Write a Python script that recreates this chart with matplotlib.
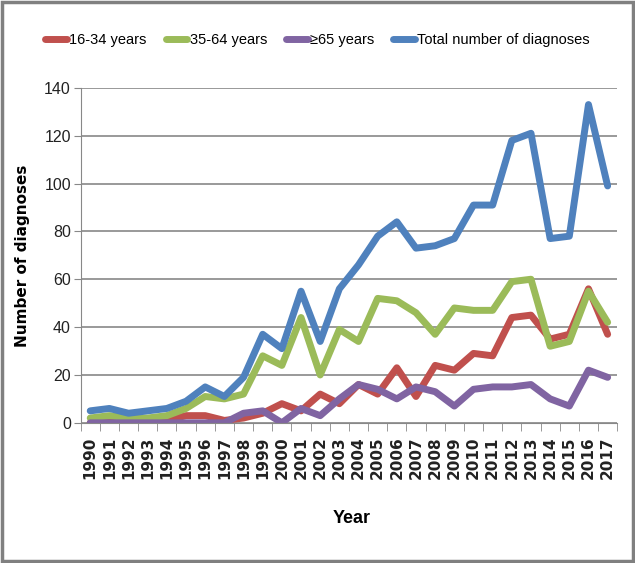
import numpy as np
import matplotlib.pyplot as plt
from matplotlib.patches import Rectangle

years = list(range(1990, 2018))
age_16_34 = [0, 1, 1, 0, 1, 3, 3, 1, 2, 4, 8, 5, 12, 8, 16, 12, 23, 11, 24, 22,
             29, 28, 44, 45, 35, 37, 56, 37]
age_35_64 = [2, 3, 2, 2, 3, 6, 11, 10, 12, 28, 24, 44, 20, 39, 34, 52, 51, 46, 37, 48,
             47, 47, 59, 60, 32, 34, 55, 42]
age_65_plus = [0, 0, 0, 0, 0, 0, 0, 0, 4, 5, 0, 6, 3, 10, 16, 14, 10, 15, 13, 7,
               14, 15, 15, 16, 10, 7, 22, 19]
total = [5, 6, 4, 5, 6, 9, 15, 11, 19, 37, 31, 55, 34, 56, 66, 78, 84, 73, 74, 77,
         91, 91, 118, 121, 77, 78, 133, 99]

series = [
    ('16-34 years', age_16_34, '#C0504D'),
    ('35-64 years', age_35_64, '#9BBB59'),
    ('\u226565 years', age_65_plus, '#8064A2'),
    ('Total number of diagnoses', total, '#4F81BD'),
]

narrow = ['Liberation Sans', 'DejaVu Sans']

fig = plt.figure(figsize=(6.35, 5.63), dpi=100)
ax = fig.add_axes([0.127, 0.249, 0.845, 0.595])

x = np.arange(len(years))
for label, vals, color in series:
    ax.plot(x, vals, color=color, lw=5, label=label, solid_capstyle='round',
            solid_joinstyle='round')

ax.set_xlim(-0.5, len(years) - 0.5)
ax.set_ylim(0, 140)
ax.set_yticks(range(0, 141, 20))
ax.yaxis.grid(True, color='#888888', lw=1.2)
ax.set_axisbelow(True)

ax.set_xticks(x)
ax.set_xticklabels([str(y) for y in years], rotation=90, fontsize=11,
                   fontweight='bold', color='#222222')
ax.set_xticks(np.arange(-0.5, len(years)), minor=True)
ax.tick_params(axis='x', which='major', length=0, pad=10)
ax.tick_params(axis='x', which='minor', length=6, color='#888888')
ax.tick_params(axis='y', length=5, color='#888888', labelcolor='#222222', pad=2)
for lbl in ax.get_yticklabels():
    lbl.set_family(narrow)
    lbl.set_fontsize(11.5)

for side in ['top', 'right']:
    ax.spines[side].set_visible(False)
ax.spines['left'].set_color('#888888')
ax.spines['bottom'].set_color('#888888')

ax.set_ylabel('Number of diagnoses', fontsize=11, fontweight='bold')
ax.yaxis.set_label_coords(-0.095, 0.5)
ax.set_xlabel('Year', family=narrow, fontsize=13, fontweight='bold')
ax.xaxis.set_label_coords(0.505, -0.26)

fig.legend(loc='upper center', bbox_to_anchor=(0.5, 0.965), ncol=4,
           frameon=False, prop={'family': narrow, 'size': 10.5},
           handlelength=1.5, handletextpad=0.15, columnspacing=1.3)

fig.patches.append(Rectangle((0.003, 0.003), 0.994, 0.994, transform=fig.transFigure,
                             fill=False, edgecolor='#808080', lw=2.5))

plt.savefig('out.png', dpi=100)
